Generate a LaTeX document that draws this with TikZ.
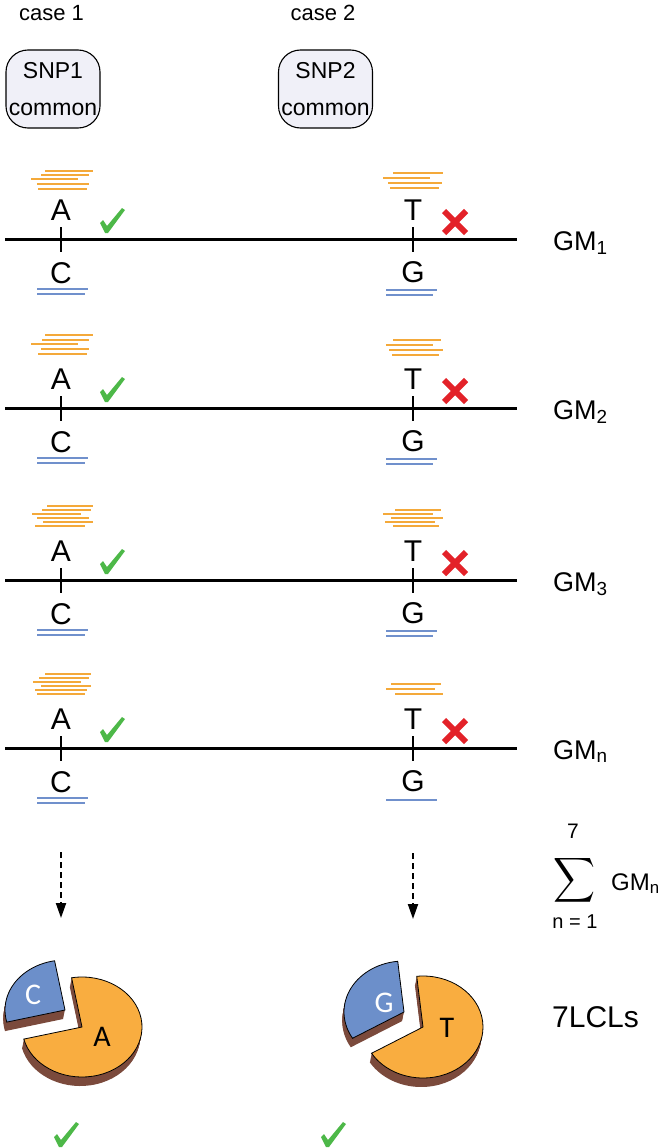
\documentclass[tikz,border=0pt]{standalone}
\usepackage{fontspec}
\setmainfont{Liberation Sans}
\newfontfamily\piefont{Carlito}
\usetikzlibrary{arrows.meta}

\definecolor{readorange}{HTML}{F4A93A}
\definecolor{readblue}{HTML}{7090CC}
\definecolor{pieorange}{HTML}{F9AD40}
\definecolor{pieblue}{HTML}{6C8FCA}
\definecolor{piebrown}{HTML}{7B4A3C}
\definecolor{okgreen}{HTML}{4DB848}
\definecolor{nored}{HTML}{E32229}
\definecolor{boxfill}{HTML}{F0F0F8}

\tikzset{
  caselab/.style={font=\fontsize{22}{24}\selectfont, anchor=base},
  snpbox/.style={draw, line width=1.1pt, rounded corners=22pt, fill=boxfill, minimum width=94pt, minimum height=78pt, align=center, inner sep=0pt, font=\fontsize{23}{37}\selectfont},
  allele/.style={font=\fontsize{30}{32}\selectfont, anchor=base, inner sep=0pt},
  gmlab/.style={font=\fontsize{27}{30}\selectfont, anchor=base west, inner sep=0pt},
  pielab/.style={font=\piefont\fontsize{30}{32}\selectfont, inner sep=0pt},
  readA/.style={readorange, line width=2.2pt},
  readB/.style={readblue, line width=2.2pt},
  flow/.style={line width=2pt, dash pattern=on 6pt off 4pt, -{Triangle[width=10pt,length=15pt]}},
  okmark/.pic={\fill[okgreen] (-12,-2) -- (-9,1) -- (-5,-5) -- (10,13) -- (13,11) -- (-4,-12) -- (-7,-12) -- cycle;},
  nomark/.pic={\draw[nored, line width=6pt] (-11,-11) -- (11,11) (-11,11) -- (11,-11);}
}

\begin{document}
\begin{tikzpicture}[x=1pt, y=1pt]
  \useasboundingbox (0,0) rectangle (662,-1148);
  \node[caselab] (case1) at (51.5,-21) {case 1};
  \node[caselab] (case2) at (323,-21) {case 2};
  \node[snpbox] (snp1) at (53,-89) {SNP1\\common};
  \node[snpbox] (snp2) at (325.5,-89) {SNP2\\common};

  \foreach \y/\k in {239/1, 408/2, 580/3, 748/n} {
    \coordinate (line\k w) at (5,-\y);
    \coordinate (line\k e) at (517,-\y);
    \draw[line width=3pt] (line\k w) -- (line\k e);
    \draw[line width=2pt] (61,-\y+12) -- (61,-\y-13);
    \draw[line width=2pt] (413,-\y+12) -- (413,-\y-13);
    \node[allele] (a\k) at (61,-\y+19) {A};
    \node[allele] (c\k) at (61,-\y-44) {C};
    \node[allele] (t\k) at (413,-\y+19) {T};
    \node[allele] (g\k) at (413,-\y-43) {G};
    \node[gmlab] (gm\k) at (553,-\y-11) {GM\textsubscript{\k}};
    \pic at (112,-\y+18) {okmark};
    \pic at (455,-\y+17) {nomark};
  }

  \foreach \d/\a/\b in {68/-16/32, 64/-20/28, 60/-30/17, 55/-24/28, 50/-23/26}
    \draw[readA] (61+\a,-239+\d) -- (61+\b,-239+\d);
  \foreach \d/\a/\b in {66/-20/30, 61/-30/17, 56/-25/29, 51/-23/26}
    \draw[readA] (413+\a,-239+\d) -- (413+\b,-239+\d);
  \foreach \d/\a/\b in {-50/-24/27, -55/-24/24}
    \draw[readB] (61+\a,-239+\d) -- (61+\b,-239+\d);
  \foreach \d/\a/\b in {-51/-27/24, -56/-27/20}
    \draw[readB] (413+\a,-239+\d) -- (413+\b,-239+\d);

  \foreach \d/\a/\b in {73/-16/32, 68/-19/28, 64/-30/17, 59/-20/28, 54/-23/26}
    \draw[readA] (61+\a,-408+\d) -- (61+\b,-408+\d);
  \foreach \d/\a/\b in {68/-20/28, 63/-27/20, 58/-24/30, 53/-21/26}
    \draw[readA] (413+\a,-408+\d) -- (413+\b,-408+\d);
  \foreach \d/\a/\b in {-50/-24/27, -55/-24/24}
    \draw[readB] (61+\a,-408+\d) -- (61+\b,-408+\d);
  \foreach \d/\a/\b in {-51/-27/24, -56/-27/20}
    \draw[readB] (413+\a,-408+\d) -- (413+\b,-408+\d);

  \foreach \d/\a/\b in {74/-14/32, 70/-19/30, 66/-29/20, 62/-24/28, 58/-18/32, 54/-26/24}
    \draw[readA] (61+\a,-580+\d) -- (61+\b,-580+\d);
  \foreach \d/\a/\b in {70/-18/28, 66/-30/20, 62/-22/30, 58/-28/22, 54/-20/26}
    \draw[readA] (413+\a,-580+\d) -- (413+\b,-580+\d);
  \foreach \d/\a/\b in {-50/-24/27, -55/-24/24}
    \draw[readB] (61+\a,-580+\d) -- (61+\b,-580+\d);
  \foreach \d/\a/\b in {-51/-27/24, -56/-27/20}
    \draw[readB] (413+\a,-580+\d) -- (413+\b,-580+\d);

  \foreach \d/\a/\b in {74/-16/30, 70/-22/28, 66/-28/20, 62/-20/30, 58/-26/26, 54/-24/24}
    \draw[readA] (61+\a,-748+\d) -- (61+\b,-748+\d);
  \foreach \d/\a/\b in {64/-22/28, 59/-27/22, 54/-18/30}
    \draw[readA] (413+\a,-748+\d) -- (413+\b,-748+\d);
  \foreach \d/\a/\b in {-50/-24/27, -55/-24/24}
    \draw[readB] (61+\a,-748+\d) -- (61+\b,-748+\d);
  \foreach \d/\a/\b in {-52/-27/24}
    \draw[readB] (413+\a,-748+\d) -- (413+\b,-748+\d);

  \node[font=\fontsize{21}{22}\selectfont, inner sep=0pt] (sumtop) at (573,-831) {7};
  \node[inner sep=0pt] (sigma) at (574,-880) {\resizebox*{42pt}{50pt}{$\displaystyle\sum$}};
  \node[font=\fontsize{24}{26}\selectfont, anchor=base west, inner sep=0pt] (gmsum) at (611,-890) {GM\textsubscript{n}};
  \node[font=\fontsize{20}{22}\selectfont, inner sep=0pt] (sumbot) at (575,-922) {n = 1};

  \coordinate (arr1s) at (61,-852);
  \coordinate (arr1e) at (61,-918);
  \coordinate (arr2s) at (413,-853);
  \coordinate (arr2e) at (413,-919);
  \draw[flow] (arr1s) -- (arr1e);
  \draw[flow] (arr2s) -- (arr2e);

  \begin{scope}[shift={(82,-1027)}]
    \foreach \d in {1,...,9}
      \fill[piebrown] (-17-0.2*\d,17-\d) -- ++(100:60 and 50) arc[start angle=100, end angle=194, x radius=60, y radius=50] -- cycle;
    \draw[fill=pieblue, line width=0.8pt] (-17,17) -- ++(100:60 and 50) arc[start angle=100, end angle=194, x radius=60, y radius=50] -- cycle;
    \foreach \d in {1,...,9}
      \fill[piebrown] (-0.2*\d,-\d) -- ++(100:60 and 50) arc[start angle=100, end angle=-166, x radius=60, y radius=50] -- cycle;
    \draw[fill=pieorange, line width=0.8pt] (0,0) -- ++(100:60 and 50) arc[start angle=100, end angle=-166, x radius=60, y radius=50] -- cycle;
  \end{scope}
  \node[pielab, white] (pieC) at (33,-995) {C};
  \node[pielab] (pieA) at (102,-1037) {A};

  \begin{scope}[shift={(423,-1027)}]
    \foreach \d in {1,...,9}
      \fill[piebrown] (-19-0.2*\d,15-\d) -- ++(96:60 and 51) arc[start angle=96, end angle=211, x radius=60, y radius=51] -- cycle;
    \draw[fill=pieblue, line width=0.8pt] (-19,15) -- ++(96:60 and 51) arc[start angle=96, end angle=211, x radius=60, y radius=51] -- cycle;
    \foreach \d in {1,...,9}
      \fill[piebrown] (-0.2*\d,-\d) -- ++(96:60 and 51) arc[start angle=96, end angle=-149, x radius=60, y radius=51] -- cycle;
    \draw[fill=pieorange, line width=0.8pt] (0,0) -- ++(96:60 and 51) arc[start angle=96, end angle=-149, x radius=60, y radius=51] -- cycle;
  \end{scope}
  \node[pielab, white] (pieG) at (384,-1003) {G};
  \node[pielab] (pieT) at (447,-1028) {T};

  \node[font=\fontsize{30}{32}\selectfont, anchor=base west, inner sep=0pt] (lcl) at (552,-1027) {7LCLs};

  \pic at (66,-1135) {okmark};
  \pic at (333,-1135) {okmark};
\end{tikzpicture}
\end{document}
